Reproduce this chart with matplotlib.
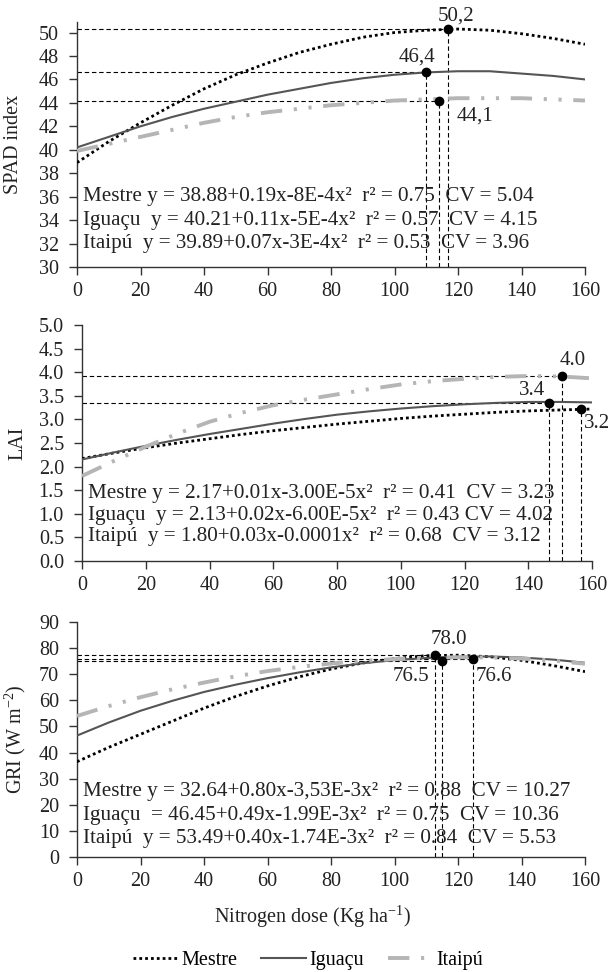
import numpy as np
import matplotlib
matplotlib.use("Agg")
import matplotlib.pyplot as plt
from matplotlib.lines import Line2D

plt.rcParams['font.family'] = ['Liberation Serif', 'DejaVu Serif']
plt.rcParams['mathtext.fontset'] = 'custom'
plt.rcParams['mathtext.rm'] = 'Liberation Serif'
plt.rcParams['mathtext.it'] = 'Liberation Serif:italic'

# nitrogen dose (x)
dose = [0, 10, 20, 30, 40, 50, 60, 70, 80, 90, 100, 110, 120, 130, 140, 150, 160]

# SPAD index
spad_mestre = [38.9, 40.7, 42.3, 43.8, 45.2, 46.4, 47.4, 48.3, 49.0, 49.6, 50.0, 50.2, 50.3, 50.2, 49.9, 49.5, 49.0]
spad_iguacu = [40.2, 41.1, 42.0, 42.8, 43.5, 44.1, 44.7, 45.2, 45.7, 46.1, 46.4, 46.6, 46.7, 46.7, 46.5, 46.3, 46.0]
spad_itaipu = [39.9, 40.5, 41.1, 41.7, 42.3, 42.8, 43.2, 43.5, 43.8, 44.0, 44.2, 44.3, 44.4, 44.4, 44.4, 44.3, 44.2]

# LAI
lai_mestre = [2.17, 2.29, 2.40, 2.50, 2.59, 2.68, 2.76, 2.83, 2.90, 2.96, 3.02, 3.07, 3.11, 3.15, 3.18, 3.20, 3.22]
lai_iguacu = [2.15, 2.30, 2.44, 2.57, 2.69, 2.80, 2.91, 3.01, 3.10, 3.17, 3.23, 3.28, 3.32, 3.35, 3.37, 3.37, 3.36]
lai_itaipu = [1.80, 2.12, 2.42, 2.70, 2.95, 3.14, 3.30, 3.42, 3.53, 3.64, 3.74, 3.81, 3.86, 3.90, 3.92, 3.91, 3.87]

# GRI
gri_mestre = [36.5, 42.0, 47.0, 52.0, 57.0, 61.5, 65.5, 69.0, 72.0, 74.3, 76.0, 77.1, 77.3, 76.7, 75.3, 73.3, 71.0]
gri_iguacu = [46.5, 51.5, 56.0, 59.8, 63.2, 66.0, 68.5, 70.7, 72.6, 74.2, 75.4, 76.2, 76.7, 76.8, 76.4, 75.6, 74.4]
gri_itaipu = [54.0, 57.8, 61.2, 64.2, 66.8, 69.2, 71.2, 72.8, 74.1, 75.1, 75.8, 76.3, 76.5, 76.4, 76.0, 75.2, 74.0]

# maximum points (x, y, label)
spad_peaks = [(117, 50.3, "50,2"), (110, 46.6, "46,4"), (114, 44.2, "44,1")]
lai_peaks = [(146.5, 3.35, "3.4"), (150.5, 3.93, "4.0"), (156.5, 3.21, "3.2")]
gri_peaks = [(112.7, 77.3, "78.0"), (114.9, 75.2, "76.5"), (124.8, 76.0, "76.6")]
lai_hline = [True, True, False]

spad_eq = ["Mestre y = 38.88+0.19x-8E-4x²  r² = 0.75  CV = 5.04",
           "Iguaçu  y = 40.21+0.11x-5E-4x²  r² = 0.57  CV = 4.15",
           "Itaipú  y = 39.89+0.07x-3E-4x²  r² = 0.53  CV = 3.96"]
lai_eq = ["Mestre y = 2.17+0.01x-3.00E-5x²  r² = 0.41  CV = 3.23",
          "Iguaçu  y = 2.13+0.02x-6.00E-5x²  r² = 0.43 CV = 4.02",
          "Itaipú  y = 1.80+0.03x-0.0001x²  r² = 0.68  CV = 3.12"]
gri_eq = ["Mestre y = 32.64+0.80x-3,53E-3x²  r² = 0.88  CV = 10.27",
          "Iguaçu  = 46.45+0.49x-1.99E-3x²  r² = 0.75  CV = 10.36",
          "Itaipú  y = 53.49+0.40x-1.74E-3x²  r² = 0.84  CV = 5.53"]

names = ["Mestre", "Iguaçu", "Itaipú"]

styles = [dict(color="black", lw=2.0, linestyle=(0, (1, 1.1))),
          dict(color="#555555", lw=1.5, linestyle="-"),
          dict(color="#b5b5b5", lw=2.8, linestyle=(0, (5.5, 3, 0.8, 3, 0.8, 3)))]

fig = plt.figure(figsize=(6.1, 9.72), dpi=100)

W, H = 610.0, 972.0
def axes_px(left, right, top, bottom):
    return fig.add_axes([left / W, 1 - bottom / H, (right - left) / W, (bottom - top) / H])

ax1 = axes_px(77, 585, 22, 267)
ax2 = axes_px(82, 592, 325, 561)
ax3 = axes_px(77, 585, 622, 857)

panels = [
    (ax1, [spad_mestre, spad_iguacu, spad_itaipu], (30, 50.9), np.arange(30, 51, 2), "SPAD index",
     spad_peaks, [True, True, True], spad_eq, [36, 34, 32], "%d",
     [(2.5, 1.1, "center"), (-3, 1.3, "center"), (5.5, -1.3, "left")], -0.107),
    (ax2, [lai_mestre, lai_iguacu, lai_itaipu], (0, 5.0), np.arange(0, 5.01, 0.5), "LAI",
     lai_peaks, lai_hline, lai_eq, [1.42, 0.97, 0.52], "%.1f",
     [(-5.2, 0.26, "center"), (3.4, 0.31, "center"), (1.0, -0.29, "left")], -0.107),
    (ax3, [gri_mestre, gri_iguacu, gri_itaipu], (0, 90), np.arange(0, 91, 10), r"GRI (W m$^{-2}$)",
     gri_peaks, [True, True, True], gri_eq, [25, 16, 7], "%d",
     [(4.3, 6.0, "center"), (-3.9, -6.2, "right"), (0.8, -7.0, "left")], -0.097),
]

for ax, series, ylim, yticks, ylabel, peaks, hl, eqs, eq_y, fmt, lab_off, lab_x in panels:
    for s, st in zip(series, styles):
        ax.plot(dose, s, **st, zorder=3)
    y0 = ylim[0]
    for (px, py, lab), h, (dx, dy, ha) in zip(peaks, hl, lab_off):
        if h:
            ax.plot([0, px], [py, py], color="black", lw=0.8, linestyle=(0, (4, 2.5)), zorder=2)
        ax.plot([px, px], [y0, py], color="black", lw=0.8, linestyle=(0, (4, 2.5)), zorder=2)
        ax.plot(px, py, "o", color="black", ms=6, zorder=5)
        ax.text(px + dx, py + dy, lab, ha=ha, va="center", fontsize=15, color="#222222", clip_on=False)
    for t, yy in zip(eqs, eq_y):
        ax.text(1.8, yy, t, fontsize=15.2, color="#222222", va="center", ha="left")
    ax.set_xlim(0, 160)
    ax.set_ylim(*ylim)
    ax.set_xticks(range(0, 161, 20))
    ax.set_yticks(yticks)
    ax.set_yticklabels([fmt % v for v in yticks])
    ax.spines["top"].set_visible(False)
    ax.spines["right"].set_visible(False)
    for sp in ("left", "bottom"):
        ax.spines[sp].set_color("#333333")
        ax.spines[sp].set_linewidth(1.0)
    ax.tick_params(direction="out", length=6, width=1.0, colors="#333333", labelsize=14.5,
                   labelcolor="#222222")
    ax.tick_params(axis="y", pad=7)
    ax.tick_params(axis="x", pad=5)
    ax.set_ylabel(ylabel, fontsize=14.5, color="#222222")
    ax.yaxis.set_label_coords(lab_x, 0.5)

ax3.set_xlabel(r"Nitrogen dose (Kg ha$^{-1}$)", fontsize=14.5, color="#222222")
ax3.xaxis.set_label_coords(0.463, -0.2)

handles = [Line2D([], [], **st) for st in styles]
fig.legend(handles, names, loc="center", bbox_to_anchor=(0.505, 1 - 960 / H), ncol=3,
           frameon=False, fontsize=14.5, handlelength=2.2, handletextpad=0.2, columnspacing=1.2)

fig.savefig("out.png", dpi=100, facecolor="white")
